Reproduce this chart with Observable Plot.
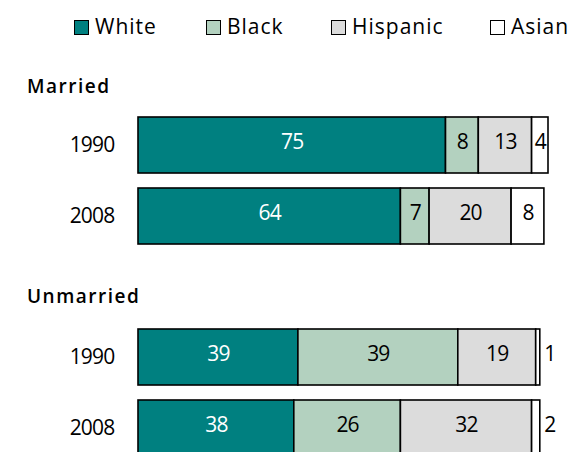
<!DOCTYPE html>
<html>
<head>
<meta charset="utf-8">
<script src="https://cdn.jsdelivr.net/npm/d3@7"></script>
<script src="https://cdn.jsdelivr.net/npm/@observablehq/plot@0.6"></script>
<style>
  html, body { margin: 0; padding: 0; background: #fff; width: 570px; height: 452px; overflow: hidden; }
  body { position: relative; font-family: "Open Sans", "Liberation Sans", Arial, sans-serif; color: #000; }
  #legend { position: absolute; left: 74px; top: 13px; display: flex; font-size: 21px; letter-spacing: 1px; line-height: 26px; }
  .item { display: flex; align-items: center; gap: 6px; }
  .sw { width: 13px; height: 13px; border: 1.5px solid #000; box-sizing: content-box; margin-top: 3px; }
  .title { position: absolute; left: 27px; font-size: 19px; font-weight: 600; letter-spacing: 1.5px; line-height: 22px; }
  .plot { position: absolute; left: 0; }
</style>
</head>
<body>
<div id="legend"></div>
<div class="title" id="t1" style="top:75px"></div>
<div class="title" id="t2" style="top:285px"></div>
<div class="plot" id="p1" style="top:102px"></div>
<div class="plot" id="p2" style="top:314px"></div>
<script>
const races = ["White", "Black", "Hispanic", "Asian"];
const colors = ["#008080", "#b3d1bf", "#dcdcdc", "#ffffff"];
const years = ["1990", "2008"];
const groups = ["Married", "Unmarried"];
const married1990 = [75, 8, 13, 4];
const married2008 = [64, 7, 20, 8];
const unmarried1990 = [39, 39, 19, 1];
const unmarried2008 = [38, 26, 32, 2];

function rows(vals1990, vals2008) {
  const out = [];
  [vals1990, vals2008].forEach((vals, i) => {
    vals.forEach((v, j) => out.push({year: years[i], race: races[j], value: v}));
  });
  return out;
}

// legend
const legend = document.getElementById("legend");
const itemWidths = [132, 125, 159, 80];
races.forEach((r, i) => {
  const it = document.createElement("div");
  it.className = "item";
  it.style.width = itemWidths[i] + "px";
  const sw = document.createElement("div");
  sw.className = "sw";
  sw.style.background = colors[i];
  const tx = document.createElement("span");
  tx.textContent = r;
  it.appendChild(sw); it.appendChild(tx);
  legend.appendChild(it);
});
document.getElementById("t1").textContent = groups[0];
document.getElementById("t2").textContent = groups[1];

function chart(data) {
  const stackOpts = {x: "value", y: "year", z: "race", order: null};
  return Plot.plot({
    width: 570,
    height: 157,
    marginLeft: 138,
    marginRight: 22,
    marginTop: 0,
    marginBottom: 0,
    style: {fontFamily: "Open Sans, Liberation Sans, Arial, sans-serif", fontSize: "21px", letterSpacing: "-0.8px", color: "#000", background: "transparent"},
    x: {domain: [0, 100], axis: null},
    y: {domain: years, padding: 0.21, label: null, tickSize: 0, tickPadding: 24},
    color: {domain: races, range: colors},
    marks: [
      Plot.barX(data, Plot.stackX({...stackOpts, fill: "race", stroke: "#000", strokeWidth: 1.6})),
      Plot.text(data, Plot.stackX({...stackOpts, text: d => d.race === "White" && d.value > 2 ? String(d.value) : "", fill: "#fff", dy: -3})),
      Plot.text(data, Plot.stackX({...stackOpts, text: d => d.race !== "White" && d.value > 2 ? String(d.value) : "", fill: "#000", dy: -3})),
      Plot.text(data, Plot.stackX2({...stackOpts, text: d => d.value <= 2 ? String(d.value) : "", fill: "#000", textAnchor: "start", dx: 4, dy: -3}))
    ]
  });
}

document.getElementById("p1").appendChild(chart(rows(married1990, married2008)));
document.getElementById("p2").appendChild(chart(rows(unmarried1990, unmarried2008)));
</script>
</body>
</html>
